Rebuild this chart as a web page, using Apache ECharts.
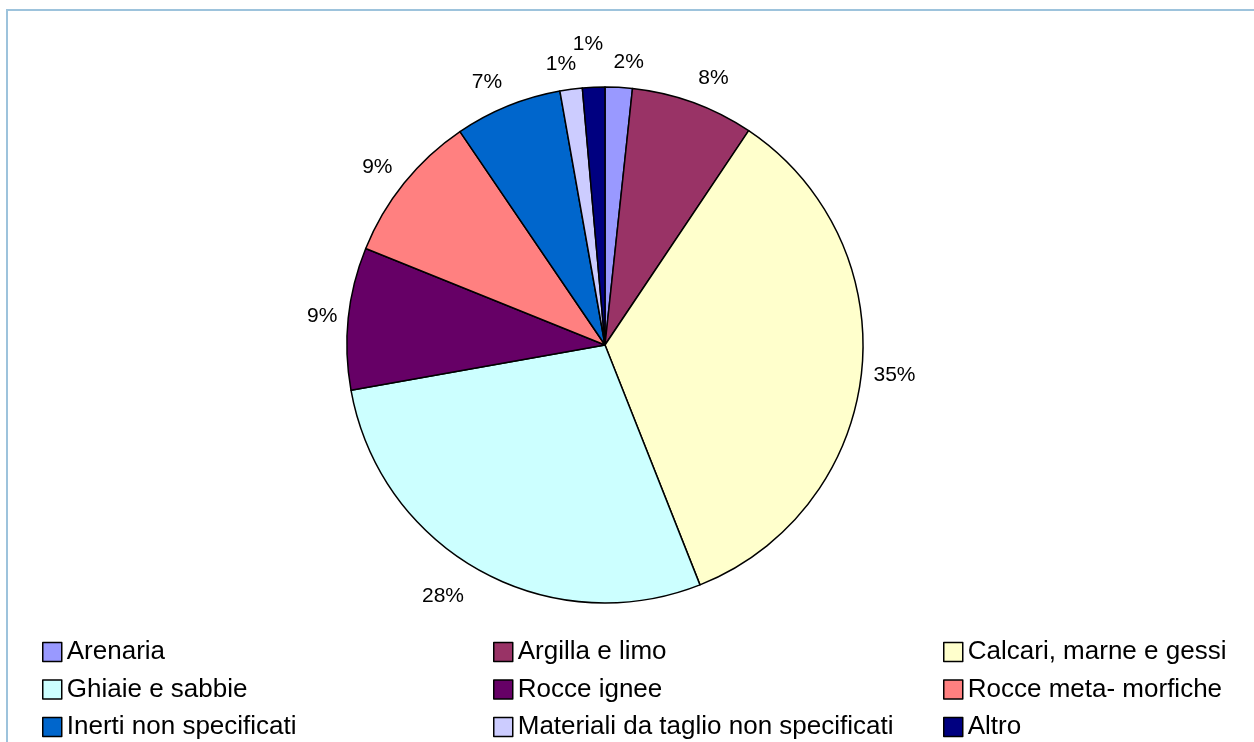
<!DOCTYPE html>
<html>
<head>
<meta charset="utf-8">
<script src="https://cdn.jsdelivr.net/npm/echarts@6/dist/echarts.min.js"></script>
<style>
  html, body { margin: 0; padding: 0; background: #ffffff; }
  #chart { width: 1254px; height: 742px; }
</style>
</head>
<body>
<div id="chart"></div>
<script>
// Categories, in clockwise order starting from 12 o'clock
const categories = [
  'Arenaria',
  'Argilla e limo',
  'Calcari, marne e gessi',
  'Ghiaie e sabbie',
  'Rocce ignee',
  'Rocce meta- morfiche',
  'Inerti non specificati',
  'Materiali da taglio non specificati',
  'Altro'
];

// Share of each material (percent)
const shares = [1.7, 7.7, 34.6, 28.2, 8.9, 9.4, 6.7, 1.4, 1.4];

// Slice fills
const colors = ['#9999FF', '#993366', '#FFFFCC', '#CCFFFF', '#660066', '#FF8080', '#0066CC', '#CCCCFF', '#000080'];

// Legend layout: three columns, each read top to bottom
const legendColumns = [
  ['Arenaria', 'Ghiaie e sabbie', 'Inerti non specificati'],
  ['Argilla e limo', 'Rocce ignee', 'Materiali da taglio non specificati'],
  ['Calcari, marne e gessi', 'Rocce meta- morfiche', 'Altro']
];
const legendLefts = [42, 493, 943];

// Radial gap between the rim and each percentage label (the last one is lifted clear of its neighbour)
const labelGaps = [15, 15, 12, 19, 11, 15, 15, 15, 33];
// Sideways offset of each label, away from the pie (negative pulls it back toward the slice)
const labelSideShift = [-6, 0, 0, 6, 0, 0, 0, -7, -11];

const FONT = '"Liberation Sans", Arial, Helvetica, sans-serif';
const CENTER = [605, 345];

const chart = echarts.init(document.getElementById('chart'), null, { renderer: 'canvas' });

const legends = legendColumns.map((col, i) => ({
  data: col,
  orient: 'vertical',
  left: legendLefts[i],
  top: 637,
  itemWidth: 19,
  itemHeight: 19,
  itemGap: 7.5,
  icon: 'rect',
  selectedMode: false,
  padding: 0,
  itemStyle: { borderColor: '#000000', borderWidth: 1.5 },
  textStyle: {
    fontFamily: FONT,
    fontSize: 26,
    color: '#000000',
    lineHeight: 30
  }
}));

// Push each outside label away from the pie vertically by half its height,
// in proportion to how far up/down its anchor sits, plus its sideways offset.
function placeLabel(params) {
  const r = params.labelRect;
  const toRight = params.align !== 'right';
  const ax = toRight ? r.x : r.x + r.width;
  const ay = r.y + r.height / 2;
  const len = Math.hypot(ax - CENTER[0], ay - CENTER[1]) || 1;
  const dirY = (ay - CENTER[1]) / len;
  const side = labelSideShift[params.dataIndex] || 0;
  return {
    dx: toRight ? side : -side,
    dy: dirY * r.height / 2,
    hideOverlap: false
  };
}

chart.setOption({
  backgroundColor: '#ffffff',
  animation: false,
  color: colors,
  legend: legends,
  graphic: [{
    type: 'rect',
    shape: { x: 7, y: 10, width: 1400, height: 1000 },
    style: { fill: 'none', stroke: '#9dc3dc', lineWidth: 2 },
    silent: true,
    z: -1
  }],
  series: [{
    type: 'pie',
    center: CENTER,
    radius: 258,
    startAngle: 90,
    clockwise: true,
    avoidLabelOverlap: false,
    data: categories.map((name, i) => ({
      name,
      value: shares[i],
      labelLine: { length: labelGaps[i] }
    })),
    itemStyle: { borderColor: '#000000', borderWidth: 1.5 },
    label: {
      show: true,
      position: 'outside',
      distanceToLabelLine: 0,
      fontFamily: FONT,
      fontSize: 21,
      color: '#000000',
      formatter: p => Math.round(p.percent) + '%'
    },
    labelLine: { show: false, length: 15, length2: 0 },
    labelLayout: placeLabel,
    emphasis: { disabled: true }
  }]
});
</script>
</body>
</html>
